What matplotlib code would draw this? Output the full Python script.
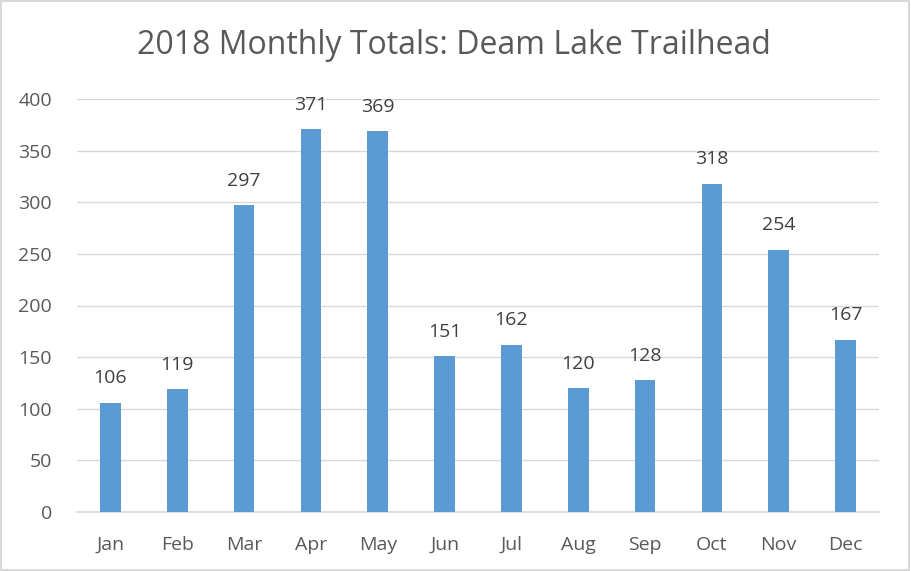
import matplotlib
matplotlib.use("Agg")
import matplotlib.pyplot as plt
from matplotlib.patches import Rectangle

months = ["Jan", "Feb", "Mar", "Apr", "May", "Jun", "Jul", "Aug", "Sep", "Oct", "Nov", "Dec"]
totals = [106, 119, 297, 371, 369, 151, 162, 120, 128, 318, 254, 167]
yticks = [0, 50, 100, 150, 200, 250, 300, 350, 400]

plt.rcParams['font.family'] = ['Open Sans', 'DejaVu Sans']
txt = "#595959"

fig = plt.figure(figsize=(9.11, 5.71), dpi=100)
ax = fig.add_axes([77/911, 59/571, (879-77)/911, (512-99)/571])

x = list(range(len(months)))
ax.bar(x, totals, width=0.31, color="#5B9BD5", zorder=3)
for xi, v in zip(x, totals):
    ax.annotate(str(v), (xi, v), xytext=(0, 11), textcoords="offset points",
                ha="center", va="bottom", fontsize=14, color="#404040")

ax.set_xlim(-0.5, len(months) - 0.5)
ax.set_ylim(0, 400)
ax.set_yticks(yticks)
ax.set_xticks(x)
ax.set_xticklabels(months)
ax.yaxis.grid(True, color="#D9D9D9", linewidth=1, zorder=0)
ax.tick_params(axis="both", length=0, labelsize=14, colors=txt)
ax.tick_params(axis="x", pad=17)
ax.tick_params(axis="y", pad=18)
for s in ["top", "right", "left"]:
    ax.spines[s].set_visible(False)
ax.spines["bottom"].set_color("#D9D9D9")
ax.spines["bottom"].set_linewidth(1.2)

fig.text(454/911, 1 - 45/571, "2018 Monthly Totals: Deam Lake Trailhead", ha="center", va="center",
         fontsize=23, color=txt)
fig.patches.append(Rectangle((0.001, 0.002), 0.997, 0.996, transform=fig.transFigure,
                             fill=False, edgecolor="#D9D9D9", linewidth=1.5))

fig.savefig("out.png", dpi=100)
